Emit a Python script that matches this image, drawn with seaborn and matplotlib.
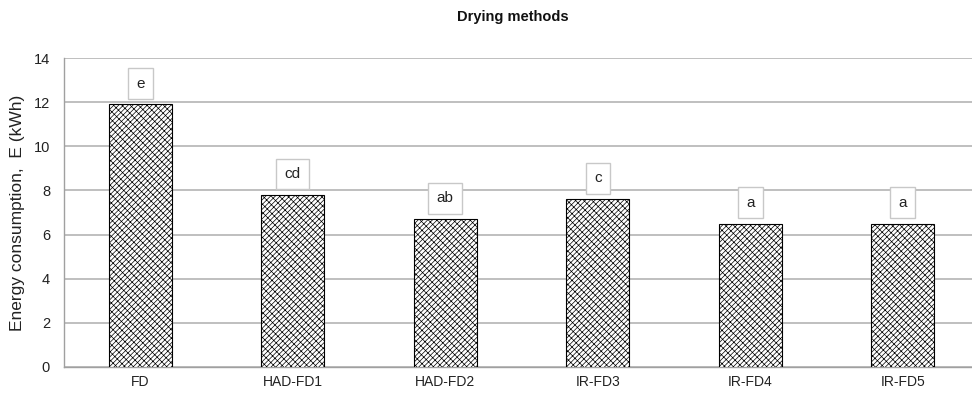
import matplotlib
matplotlib.use("Agg")
import matplotlib.pyplot as plt
import seaborn as sns
import pandas as pd

# Energy consumption per drying method
methods = ["FD", "HAD-FD1", "HAD-FD2", "IR-FD3", "IR-FD4", "IR-FD5"]
energy = [11.9, 7.8, 6.7, 7.6, 6.5, 6.5]
letters = ["e", "cd", "ab", "c", "a", "a"]

df = pd.DataFrame({"Method": methods, "Energy": energy})

sns.set_style("white")
plt.rcParams["font.family"] = ["Liberation Sans", "DejaVu Sans"]
plt.rcParams["hatch.color"] = "#111111"
plt.rcParams["hatch.linewidth"] = 0.5

fig = plt.figure(figsize=(9.72, 3.97), dpi=100)
ax = fig.add_axes([64 / 972, 1 - 367 / 397, 1 - 64 / 972, (367 - 58) / 397])

sns.barplot(data=df, x="Method", y="Energy", color="white", edgecolor="black",
            linewidth=0.8, width=0.41, ax=ax, zorder=3)
for p in ax.patches:
    p.set_hatch("///////\\\\\\\\")
    p.set_facecolor("white")

# letter boxes above the bars
for i, (v, lab) in enumerate(zip(energy, letters)):
    ax.annotate(lab, (i, v), xytext=(0, 15), textcoords="offset points",
                ha="center", va="center", fontsize=11, color="#222222",
                bbox=dict(boxstyle="square,pad=0.55", fc="white", ec="#c8c8c8", lw=1),
                zorder=5)

ax.set_ylim(0, 14)
ax.set_yticks(range(0, 15, 2))
ax.set_xlim(-0.5, -0.5 + (972 - 64) / 152.5)
ax.yaxis.grid(True, color="#b4b4b4", linewidth=1.2, zorder=0)
ax.set_axisbelow(True)

for s in ["top", "right"]:
    ax.spines[s].set_visible(False)
for s in ["left", "bottom"]:
    ax.spines[s].set_color("#a0a0a0")
    ax.spines[s].set_linewidth(1)

ax.tick_params(axis="y", length=4, color="#a0a0a0", labelsize=10.5, labelcolor="#222222", pad=6)
ax.tick_params(axis="x", length=0, labelsize=10, labelcolor="#222222", pad=6)
ax.set_xlabel("")
ax.set_ylabel("Energy consumption,  E (kWh)", fontsize=12.5, color="#222222", labelpad=6)

fig.text(513 / 972, 1 - 17 / 397, "Drying methods", ha="center", va="center",
         fontsize=10.5, fontweight="bold", color="#111111")

fig.savefig("out.png", dpi=100)
